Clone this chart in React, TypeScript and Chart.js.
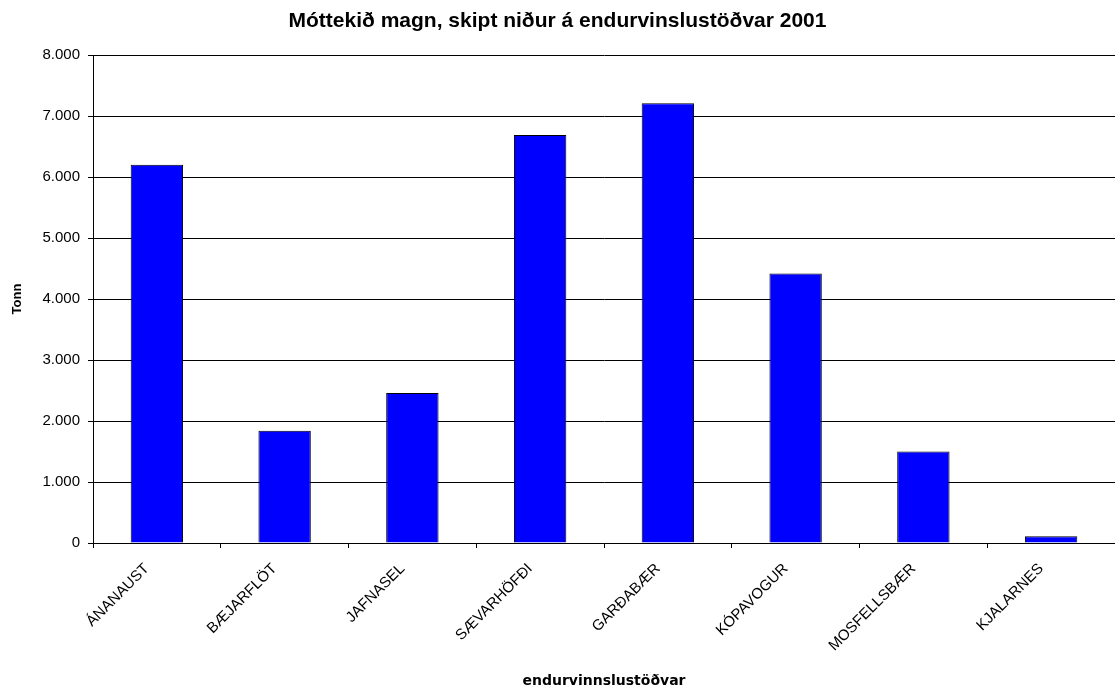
import React, { useEffect, useRef } from "react";
import { Chart, registerables } from "chart.js";

Chart.register(...registerables);

const categories = ["ÁNANAUST", "BÆJARFLÖT", "JAFNASEL", "SÆVARHÖFÐI", "GARÐABÆR", "KÓPAVOGUR", "MOSFELLSBÆR", "KJALARNES"];
const tonnValues = [6200, 1840, 2460, 6690, 7210, 4420, 1500, 110];
const chartTitle = "Móttekið magn, skipt niður á endurvinslustöðvar 2001";
const xTitle = "endurvinnslustöðvar";
const yTitle = "Tonn";

const fmt = (v: number) => String(v).replace(/\B(?=(\d{3})+(?!\d))/g, ".");

export default function App() {
  const ref = useRef<HTMLCanvasElement | null>(null);
  useEffect(() => {
    document.body.style.margin = "0";
    const ctx = ref.current!.getContext("2d")!;
    const chart = new Chart(ctx, {
      type: "bar",
      data: {
        labels: categories,
        datasets: [
          {
            data: tonnValues,
            backgroundColor: "#0000FF",
            borderColor: "#000000",
            borderWidth: 1,
            barPercentage: 0.41,
            categoryPercentage: 1,
          },
        ],
      },
      options: {
        animation: false,
        responsive: false,
        maintainAspectRatio: false,
        layout: { padding: { left: 0, right: 0, top: 0, bottom: 0 } },
        plugins: {
          legend: { display: false },
          tooltip: { enabled: false },
          title: {
            display: true,
            text: chartTitle,
            color: "#000",
            font: { family: "'Liberation Sans', Arial, sans-serif", size: 21, weight: "bold" },
            padding: { top: 9, bottom: 20.8 },
          },
        },
        scales: {
          x: {
            offset: true,
            grid: { display: true, drawOnChartArea: false, drawTicks: true, tickLength: 5, color: "#000", offset: true },
            border: { display: true, color: "#000", width: 1 },
            ticks: {
              color: "#000",
              minRotation: 45,
              maxRotation: 45,
              autoSkip: false,
              padding: 12,
              labelOffset: -10,
              font: { family: "'Liberation Sans', Arial, sans-serif", size: 15 },
            },
            title: {
              display: true,
              text: xTitle,
              color: "#000",
              font: { family: "'DejaVu Sans', Verdana, sans-serif", size: 14, weight: "bold" },
              padding: { top: 0, bottom: 0 },
            },
            afterFit: (s: any) => {
              s.height = 147;
            },
          },
          y: {
            min: 0,
            max: 8000,
            grid: { color: "#000", lineWidth: 1, tickLength: 5, drawTicks: true },
            border: { display: true, color: "#000", width: 1 },
            ticks: {
              stepSize: 1000,
              color: "#000",
              padding: 8,
              font: { family: "'Liberation Sans', Arial, sans-serif", size: 15 },
              callback: (v: any) => fmt(Number(v)),
            },
            title: {
              display: true,
              text: yTitle,
              color: "#000",
              font: { family: "'Liberation Sans', Arial, sans-serif", size: 13, weight: "bold" },
              padding: { top: 10, bottom: 0 },
            },
            afterFit: (s: any) => {
              s.width = 93;
            },
          },
        },
      },
    });
    return () => chart.destroy();
  }, []);
  return (
    <div style={{ position: "absolute", left: 0, top: 0, width: 1115, height: 690 }}>
      <canvas ref={ref} width={1115} height={690} style={{ width: 1115, height: 690 }} />
    </div>
  );
}
